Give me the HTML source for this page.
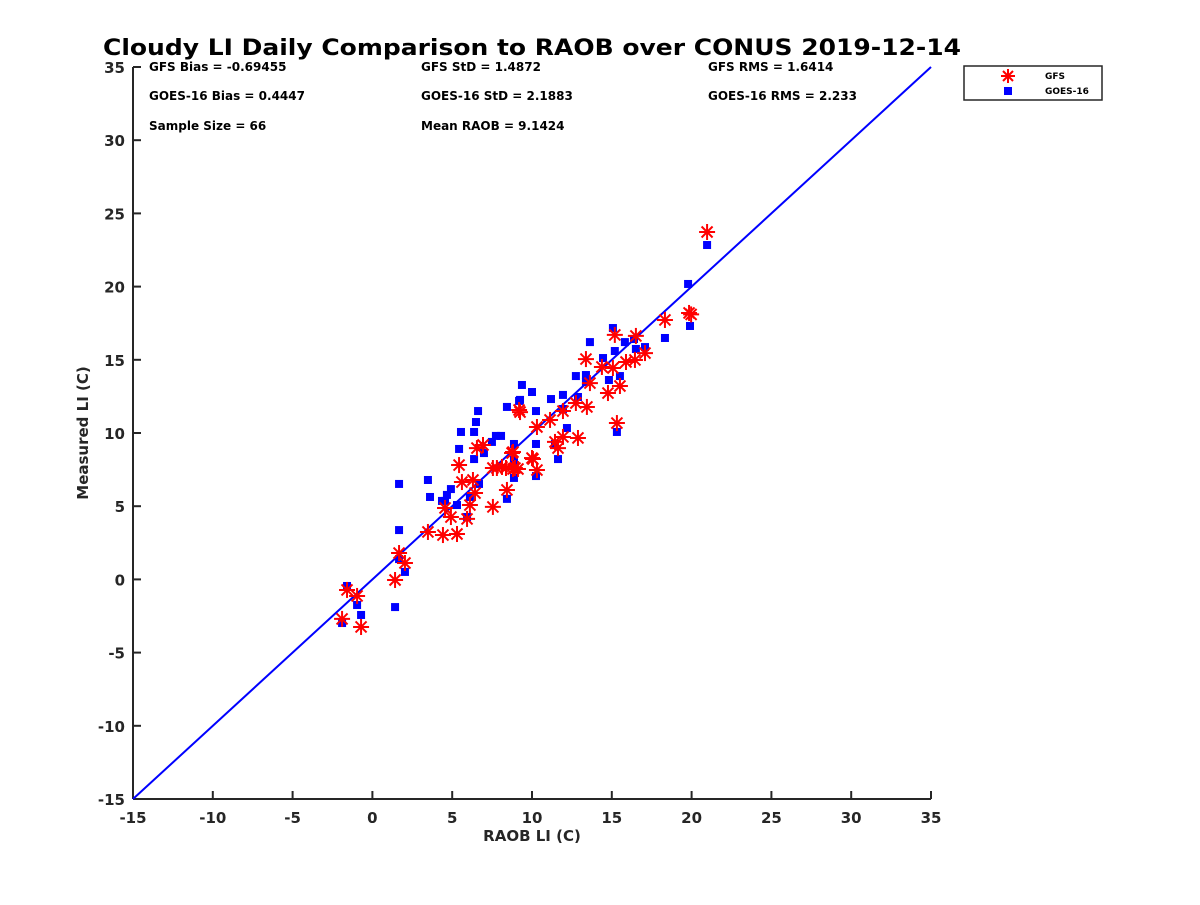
<!DOCTYPE html>
<html><head><meta charset="utf-8"><style>
html,body{margin:0;padding:0;background:#fff;}
svg text{font-family:"DejaVu Sans","Liberation Sans",sans-serif;font-weight:bold;}
</style></head><body>
<svg id="chart" width="1200" height="900" viewBox="0 0 1200 900" xmlns="http://www.w3.org/2000/svg">
<rect width="1200" height="900" fill="#fff"/>
<text x="532" y="55" font-size="22" text-anchor="middle" textLength="858" lengthAdjust="spacingAndGlyphs">Cloudy LI Daily Comparison to RAOB over CONUS 2019-12-14</text>
<g id="axes"></g>
<g id="marks"></g>
<g font-size="12" fill="#000">
<text x="149" y="71">GFS Bias = -0.69455</text>
<text x="149" y="100">GOES-16 Bias = 0.4447</text>
<text x="149" y="130">Sample Size = 66</text>
<text x="421" y="71">GFS StD = 1.4872</text>
<text x="421" y="100">GOES-16 StD = 2.1883</text>
<text x="421" y="130">Mean RAOB = 9.1424</text>
<text x="708" y="71">GFS RMS = 1.6414</text>
<text x="708" y="100">GOES-16 RMS = 2.233</text>
</g>
<g>
<rect x="964" y="66" width="138" height="34" fill="#fff" stroke="#262626" stroke-width="1.5"/>
<g stroke="#f00" stroke-width="2">
<line x1="1008" y1="69" x2="1008" y2="83"/><line x1="1001" y1="76" x2="1015" y2="76"/>
<line x1="1003" y1="71" x2="1013" y2="81"/><line x1="1003" y1="81" x2="1013" y2="71"/></g>
<rect x="1004" y="87" width="8" height="8" fill="#00f"/>
<text x="1045" y="79" font-size="9">GFS</text>
<text x="1045" y="94" font-size="9">GOES-16</text>
</g>
</svg>
<script>
const xTicks=[-15,-10,-5,0,5,10,15,20,25,30,35];
const yTicks=[-15,-10,-5,0,5,10,15,20,25,30,35];
const gfsX=[-1.90,-0.71,-1.59,-0.96,1.42,1.67,2.04,3.48,4.42,5.30,4.92,5.93,4.55,6.11,5.61,6.30,6.43,5.43,6.55,6.93,7.55,8.43,7.55,8.12,8.81,9.12,8.81,10.0,10.31,10.31,9.19,11.13,11.44,20.97,19.84,19.97,18.33,15.19,16.51,17.08,16.45,15.89,14.38,15.07,13.38,13.63,14.76,15.51,15.32,9.25,11.94,12.75,13.44,11.94,12.88,11.63,10.06,8.75,8.93,7.80,8.37];
const gfsY=[-2.70,-3.25,-0.72,-1.13,-0.04,1.80,1.12,3.24,3.03,3.10,4.26,4.13,4.88,5.08,6.65,6.79,5.90,7.81,8.97,9.18,4.95,6.11,7.61,7.68,7.54,7.54,8.70,8.29,7.47,10.41,11.57,10.89,9.39,23.73,18.20,18.10,17.72,16.70,16.63,15.46,14.99,14.85,14.51,14.44,15.05,13.41,12.73,13.21,10.68,11.43,11.50,12.05,11.78,9.73,9.66,8.97,8.22,8.63,7.61,7.61,7.61];
const goesX=[-1.59,-1.90,-0.96,-0.71,1.42,1.67,1.67,1.67,2.04,3.48,3.61,4.92,4.67,4.36,4.55,5.30,5.93,6.11,6.68,5.43,5.55,6.37,6.49,6.62,6.37,6.99,7.49,7.74,8.06,8.43,8.87,8.87,8.87,8.87,8.43,9.19,9.37,10.0,10.25,10.25,10.25,11.19,11.44,11.63,20.97,19.78,19.90,18.33,15.07,13.63,15.82,16.39,17.08,16.51,15.19,14.45,12.75,13.38,13.38,15.51,14.82,15.32,9.25,11.94,11.94,12.88,12.19];
const goesY=[-0.45,-2.98,-1.75,-2.43,-1.89,6.52,3.37,1.39,0.51,6.79,5.63,6.17,5.77,5.36,5.36,5.08,4.26,5.63,6.52,8.91,10.07,10.07,10.75,11.50,8.22,8.63,9.39,9.80,9.80,5.50,9.25,8.16,7.81,6.93,11.78,12.19,13.28,12.80,11.50,9.25,7.06,12.32,9.25,8.22,22.84,20.18,17.31,16.49,17.17,16.21,16.21,16.42,15.87,15.74,15.60,15.12,13.89,13.96,13.48,13.89,13.62,10.07,12.26,12.60,11.64,12.46,10.34];
const L=133,R=931,T=67,B=799,x0=-15,x1=35,y0=-15,y1=35;
const sx=v=>L+(v-x0)/(x1-x0)*(R-L);
const sy=v=>B-(v-y0)/(y1-y0)*(B-T);
const NS="http://www.w3.org/2000/svg";
function mk(tag,attrs,parent){const e=document.createElementNS(NS,tag);for(const k in attrs)e.setAttribute(k,attrs[k]);parent.appendChild(e);return e;}
const axes=document.getElementById('axes'),marks=document.getElementById('marks');
const ax=mk('line',{x1:L,y1:B,x2:R,y2:B,stroke:'#262626','stroke-width':2},axes);


const ay=mk('line',{x1:L,y1:T,x2:L,y2:B,stroke:'#262626','stroke-width':2},axes);


xTicks.forEach(v=>{
 mk('line',{x1:sx(v),y1:B,x2:sx(v),y2:B-8,stroke:'#262626','stroke-width':2},axes);
 const t=mk('text',{x:sx(v),y:B+24,'font-size':15,'text-anchor':'middle',fill:'#262626'},axes);
 t.textContent=v;
 
 
});
yTicks.forEach(v=>{
 mk('line',{x1:L,y1:sy(v),x2:L+8,y2:sy(v),stroke:'#262626','stroke-width':2},axes);
 const t=mk('text',{x:L-8,y:sy(v)+6,'font-size':15,'text-anchor':'end',fill:'#262626'},axes);
 t.textContent=v;
 
 
});
const xt=mk('text',{x:532,y:841,'font-size':15,'text-anchor':'middle',fill:'#262626'},axes);
xt.textContent='RAOB LI (C)';


const yt=mk('text',{x:0,y:0,'font-size':15,'text-anchor':'middle',fill:'#262626',transform:'translate(88,433) rotate(-90)'},axes);
yt.textContent='Measured LI (C)';


const ol=mk('line',{x1:sx(-15),y1:sy(-15),x2:sx(35),y2:sy(35),stroke:'#00f','stroke-width':2},marks);


goesX.forEach((v,i)=>{
 const r=mk('rect',{x:sx(v)-4,y:sy(goesY[i])-4,width:8,height:8,fill:'#00f'},marks);
 
 
});
gfsX.forEach((v,i)=>{
 const cx=sx(v),cy=sy(gfsY[i]);
 const g=mk('g',{stroke:'#f00','stroke-width':2},marks);
 
 
 mk('line',{x1:cx,y1:cy-8,x2:cx,y2:cy+8},g);
 mk('line',{x1:cx-8,y1:cy,x2:cx+8,y2:cy},g);
 mk('line',{x1:cx-5.5,y1:cy-5.5,x2:cx+5.5,y2:cy+5.5},g);
 mk('line',{x1:cx-5.5,y1:cy+5.5,x2:cx+5.5,y2:cy-5.5},g);
});
</script>
</body></html>
